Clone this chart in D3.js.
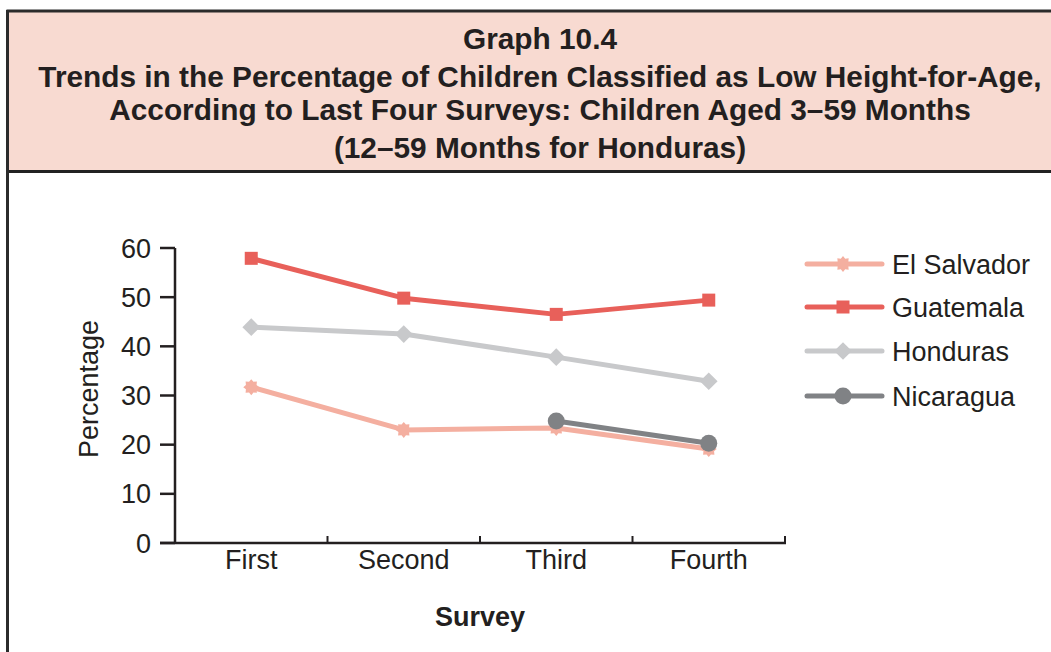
<!DOCTYPE html>
<html><head><meta charset="utf-8">
<script src="https://cdn.jsdelivr.net/npm/d3@7"></script>
<style>body{margin:0;background:#fff;} svg{display:block;font-family:"Liberation Sans",Arial,sans-serif;}</style>
</head><body>
<svg id="c" width="1051" height="652"></svg>
<script>
const categories = ["First","Second","Third","Fourth"];
const elSalvador = [31.7, 23.0, 23.4, 19.1];
const guatemala = [57.9, 49.8, 46.5, 49.4];
const honduras = [43.9, 42.5, 37.8, 32.9];
const nicaragua = [null, null, 24.8, 20.3];
const yTicks = [0,10,20,30,40,50,60];
const titleLines = ["Graph 10.4","Trends in the Percentage of Children Classified as Low Height-for-Age,","According to Last Four Surveys: Children Aged 3–59 Months","(12–59 Months for Honduras)"];

const series = [
  {name:"El Salvador", values:elSalvador, color:"#f4afa0", marker:"star"},
  {name:"Guatemala", values:guatemala, color:"#e8605a", marker:"square"},
  {name:"Honduras", values:honduras, color:"#c8c9cb", marker:"diamond"},
  {name:"Nicaragua", values:nicaragua, color:"#808285", marker:"circle"}
];

const svg = d3.select("#c");
const dark = "#231f20";

// frame and header
svg.append("rect").attr("x",8).attr("y",11).attr("width",1060).attr("height",160).attr("fill","#f8dad1");
svg.append("line").attr("x1",6.5).attr("x2",1051).attr("y1",11).attr("y2",11).attr("stroke","#2b2b2b").attr("stroke-width",3);
svg.append("line").attr("x1",6.5).attr("x2",1051).attr("y1",171.5).attr("y2",171.5).attr("stroke","#222").attr("stroke-width",3);
svg.append("line").attr("x1",7.5).attr("x2",7.5).attr("y1",10).attr("y2",652).attr("stroke","#2b2b2b").attr("stroke-width",3);

const titleY = [49, 87, 120, 158];
svg.selectAll("text.title").data(titleLines).join("text").attr("class","title")
  .attr("x",540).attr("y",(d,i)=>titleY[i]).attr("text-anchor","middle")
  .attr("font-size",29.8).attr("font-weight","bold").attr("fill",dark)
  .text(d=>d);

// scales
const x = d3.scaleBand().domain(categories).range([175,785]);
const y = d3.scaleLinear().domain([0,60]).range([543,248]);

const fs = 27;
// y axis
const gy = svg.append("g");
gy.append("line").attr("x1",175).attr("x2",175).attr("y1",y(60)).attr("y2",y(0)+1).attr("stroke",dark).attr("stroke-width",2.5);
gy.selectAll("line.t").data(yTicks).join("line").attr("class","t")
  .attr("x1",160).attr("x2",175).attr("y1",d=>y(d)).attr("y2",d=>y(d)).attr("stroke",dark).attr("stroke-width",2.5);
gy.selectAll("text").data(yTicks).join("text")
  .attr("x",151).attr("y",d=>y(d)+9.5).attr("text-anchor","end").attr("font-size",fs).attr("fill",dark).text(d=>d);

// x axis
const gx = svg.append("g");
gx.append("line").attr("x1",160).attr("x2",786).attr("y1",543).attr("y2",543).attr("stroke",dark).attr("stroke-width",2.5);
const bounds = categories.map(c=>x(c)).concat([x.range()[1]]);
gx.selectAll("line.t").data(bounds).join("line").attr("class","t")
  .attr("x1",d=>d).attr("x2",d=>d).attr("y1",536).attr("y2",543).attr("stroke",dark).attr("stroke-width",2);
gx.selectAll("text").data(categories).join("text")
  .attr("x",d=>x(d)+x.bandwidth()/2).attr("y",569).attr("text-anchor","middle").attr("font-size",fs).attr("fill",dark).text(d=>d);

svg.append("text").attr("transform","translate(98,389) rotate(-90)").attr("text-anchor","middle")
  .attr("font-size",fs).attr("fill",dark).text("Percentage");
svg.append("text").attr("x",480).attr("y",626).attr("text-anchor","middle")
  .attr("font-size",fs).attr("font-weight","bold").attr("fill",dark).text("Survey");

// markers
function starPath(r){
  const pts=[]; const n=8;
  for(let i=0;i<n*2;i++){const a=Math.PI*i/n; const rr=i%2===0?r:r*0.72; pts.push([rr*Math.sin(a),-rr*Math.cos(a)]);}
  return d3.line()(pts)+"Z";
}
function marker(g,type,color){
  if(type==="square") g.append("rect").attr("x",-6.5).attr("y",-6.5).attr("width",13).attr("height",13).attr("fill",color);
  else if(type==="diamond") g.append("path").attr("d",d3.symbol(d3.symbolDiamond2,200)()).attr("fill",color);
  else if(type==="circle") g.append("circle").attr("r",8.5).attr("fill",color);
  else g.append("path").attr("d",starPath(8)).attr("fill",color);
}

const line = d3.line().defined(d=>d.v!=null).x(d=>x(d.c)+x.bandwidth()/2).y(d=>y(d.v));
series.forEach(s=>{
  const pts = categories.map((c,i)=>({c, v:s.values[i]}));
  svg.append("path").datum(pts).attr("d",line).attr("fill","none").attr("stroke",s.color).attr("stroke-width",5).attr("stroke-linejoin","round");
  pts.filter(p=>p.v!=null).forEach(p=>{
    marker(svg.append("g").attr("transform",`translate(${x(p.c)+x.bandwidth()/2},${y(p.v)})`), s.marker, s.color);
  });
});

// legend
const legY = [264, 307, 351, 396];
series.forEach((s,i)=>{
  const g = svg.append("g").attr("transform",`translate(0,${legY[i]})`);
  g.append("line").attr("x1",807).attr("x2",882).attr("y1",0).attr("y2",0).attr("stroke",s.color).attr("stroke-width",5).attr("stroke-linecap","round");
  marker(g.append("g").attr("transform","translate(843,0)"), s.marker, s.color);
  g.append("text").attr("x",892).attr("y",9.5).attr("font-size",fs).attr("fill",dark).text(s.name);
});
</script>
</body></html>
